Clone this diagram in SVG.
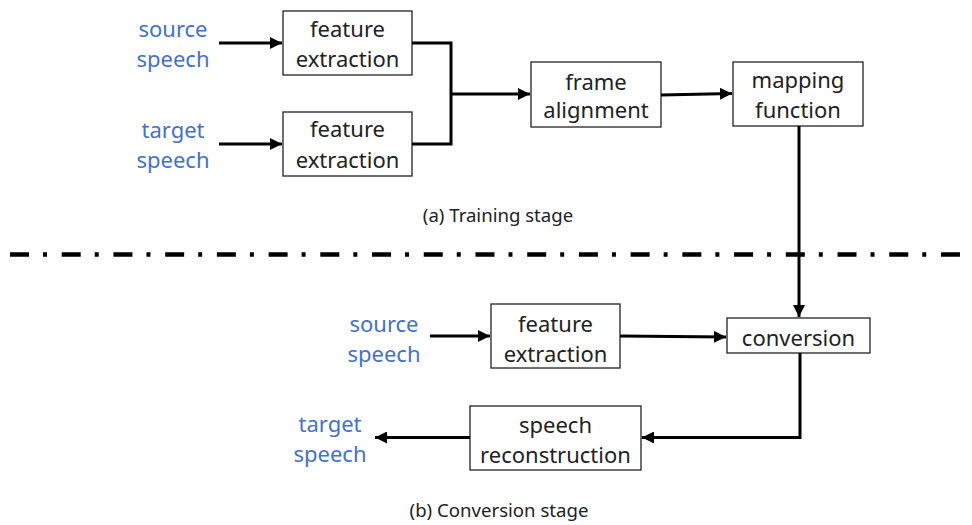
<svg xmlns="http://www.w3.org/2000/svg" width="972" height="525" viewBox="0 0 972 525">
<style>
.box{fill:#fff;stroke:#222;stroke-width:1.3}
.t{font-family:"Noto Sans","Open Sans",sans-serif;font-size:22px;fill:#222;text-anchor:middle}
.b{font-family:"Noto Sans","Open Sans",sans-serif;font-size:22px;fill:#4472C4;text-anchor:middle}
.cap{font-family:"Noto Sans","Open Sans",sans-serif;font-size:18.6px;fill:#222;text-anchor:middle}
.c{fill:none;stroke:#000;stroke-width:3}
</style>
<defs>
<marker id="ah" viewBox="0 0 10 10" refX="10" refY="5" markerWidth="4" markerHeight="4" markerUnits="strokeWidth" orient="auto">
<path d="M0,0 L10,5 L0,10 z" fill="#000"/>
</marker>
</defs>
<rect width="972" height="525" fill="#fff"/>
<g id="src1"><text class="b" x="173" y="37">source</text><text class="b" x="173" y="67">speech</text></g>
<g id="tgt1"><text class="b" x="173" y="138">target</text><text class="b" x="173" y="168">speech</text></g>
<g id="fe1"><rect class="box" x="283" y="11" width="129" height="64"/><text class="t" x="347.5" y="37">feature</text><text class="t" x="347.5" y="67">extraction</text></g>
<g id="fe2"><rect class="box" x="283" y="112" width="129" height="64"/><text class="t" x="347.5" y="137">feature</text><text class="t" x="347.5" y="168">extraction</text></g>
<g id="fa"><rect class="box" x="531" y="62" width="130" height="65"/><text class="t" x="596" y="90">frame</text><text class="t" x="596" y="118">alignment</text></g>
<g id="mf"><rect class="box" x="733" y="62" width="130" height="64"/><text class="t" x="798" y="88">mapping</text><text class="t" x="798" y="118">function</text></g>
<g id="cap-a"><text class="cap" x="498" y="222">(a) Training stage</text></g>
<g id="src2"><text class="b" x="384" y="332">source</text><text class="b" x="384" y="362">speech</text></g>
<g id="fe3"><rect class="box" x="491" y="304" width="129" height="64"/><text class="t" x="555.5" y="332">feature</text><text class="t" x="555.5" y="362">extraction</text></g>
<g id="conv"><rect class="box" x="727" y="318" width="143" height="35"/><text class="t" x="798.5" y="346">conversion</text></g>
<g id="sr"><rect class="box" x="470" y="406" width="171" height="64"/><text class="t" x="555.5" y="433">speech</text><text class="t" x="555.5" y="463">reconstruction</text></g>
<g id="tgt2"><text class="b" x="330" y="432">target</text><text class="b" x="330" y="462">speech</text></g>
<g id="cap-b"><text class="cap" x="499" y="517">(b) Conversion stage</text></g>
<g id="divider"><line x1="10" y1="254.5" x2="961" y2="254.5" stroke="#000" stroke-width="4.5" stroke-dasharray="19 14 4 14.72"/></g>
<g id="connectors">
<line class="c" x1="219" y1="43" x2="282" y2="43" marker-end="url(#ah)"/>
<line class="c" x1="219" y1="144" x2="282" y2="144" marker-end="url(#ah)"/>
<polyline class="c" points="412,43 451,43 451,144 412,144"/>
<line class="c" x1="451" y1="94" x2="530" y2="94" marker-end="url(#ah)"/>
<line class="c" x1="661" y1="95" x2="732" y2="93.5" marker-end="url(#ah)"/>
<line class="c" x1="799" y1="126" x2="799" y2="317" marker-end="url(#ah)"/>
<line class="c" x1="430" y1="336" x2="490" y2="336" marker-end="url(#ah)"/>
<line class="c" x1="620" y1="336" x2="726" y2="337" marker-end="url(#ah)"/>
<polyline class="c" points="800,353 800,437.5 642,437.5" marker-end="url(#ah)"/>
<line class="c" x1="470" y1="437.5" x2="375" y2="437.5" marker-end="url(#ah)"/>
</g>
</svg>
